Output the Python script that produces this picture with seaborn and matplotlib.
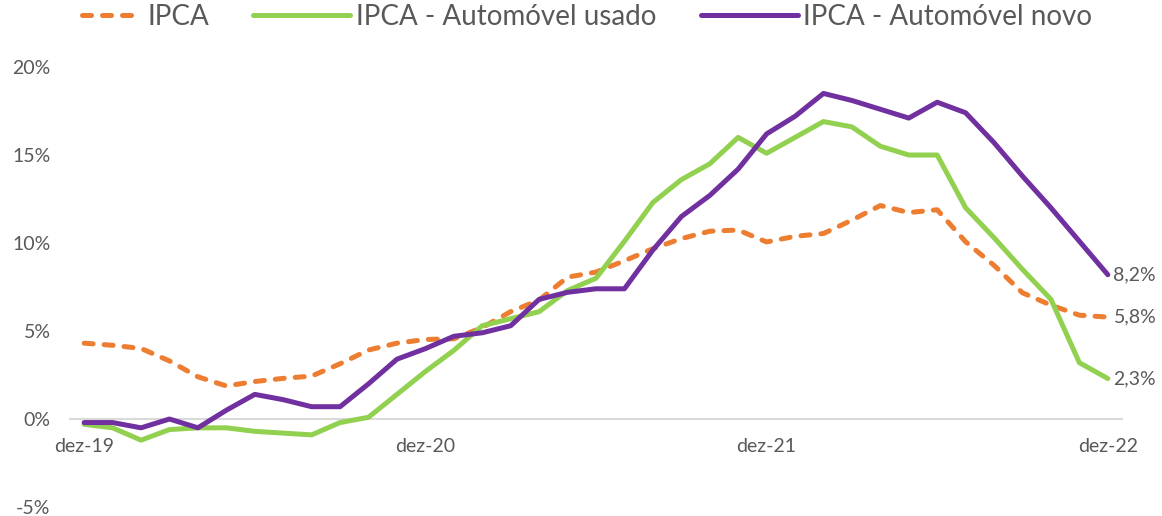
import matplotlib
matplotlib.use('Agg')
import matplotlib.pyplot as plt
import seaborn as sns
import pandas as pd
from matplotlib.lines import Line2D
from matplotlib.ticker import FixedLocator, FuncFormatter

# Monthly categories, dez-19 .. dez-22
meses = ['dez-19', 'jan-20', 'fev-20', 'mar-20', 'abr-20', 'mai-20', 'jun-20', 'jul-20',
         'ago-20', 'set-20', 'out-20', 'nov-20', 'dez-20', 'jan-21', 'fev-21', 'mar-21',
         'abr-21', 'mai-21', 'jun-21', 'jul-21', 'ago-21', 'set-21', 'out-21', 'nov-21',
         'dez-21', 'jan-22', 'fev-22', 'mar-22', 'abr-22', 'mai-22', 'jun-22', 'jul-22',
         'ago-22', 'set-22', 'out-22', 'nov-22', 'dez-22']

# 12-month variation (%)
ipca = [4.31, 4.19, 4.01, 3.30, 2.40, 1.88, 2.13, 2.31, 2.44, 3.14, 3.92, 4.31, 4.52,
        4.56, 5.20, 6.10, 6.76, 8.06, 8.35, 8.99, 9.68, 10.25, 10.67, 10.74, 10.06,
        10.38, 10.54, 11.30, 12.13, 11.73, 11.89, 10.07, 8.73, 7.17, 6.47, 5.90, 5.79]
usado = [-0.3, -0.5, -1.2, -0.6, -0.5, -0.5, -0.7, -0.8, -0.9, -0.2, 0.1, 1.4, 2.7,
         3.9, 5.3, 5.7, 6.1, 7.3, 8.0, 10.1, 12.3, 13.6, 14.5, 16.0, 15.1,
         16.0, 16.9, 16.6, 15.5, 15.0, 15.0, 12.0, 10.3, 8.5, 6.8, 3.2, 2.3]
novo = [-0.2, -0.2, -0.5, 0.0, -0.5, 0.5, 1.4, 1.1, 0.7, 0.7, 2.0, 3.4, 4.0,
        4.7, 4.9, 5.3, 6.8, 7.2, 7.4, 7.4, 9.6, 11.5, 12.7, 14.2, 16.2,
        17.2, 18.5, 18.1, 17.6, 17.1, 18.0, 17.4, 15.7, 13.8, 12.0, 10.1, 8.2]

series = ['IPCA', 'IPCA - Automóvel usado', 'IPCA - Automóvel novo']
cores = ['#ED7D31', '#92D050', '#7030A0']
rotulos_finais = ['5,8%', '2,3%', '8,2%']

df = pd.DataFrame({'x': list(range(len(meses))) * 3,
                   'valor': ipca + usado + novo,
                   'serie': [s for s in series for _ in meses]})

sns.set_theme(style='white')
plt.rcParams['font.family'] = ['Lato', 'DejaVu Sans']
cinza = '#595959'

fig = plt.figure(figsize=(11.62, 5.16), dpi=100)
ax = fig.add_axes([0.0602, 0.0174, 0.9054, 0.8527])

lw = 3.6
traco = (1.8, 2.2)
for s, c in zip(series, cores):
    d = df[df['serie'] == s]
    sns.lineplot(data=d, x='x', y='valor', color=c, lw=lw, ax=ax,
                 solid_capstyle='round', dash_capstyle='round')
ax.lines[0].set_dashes(traco)

ax.set_xlim(-0.5, 36.5)
ax.set_ylim(-5, 20)
ax.set_xlabel('')
ax.set_ylabel('')

for sp in ['top', 'right', 'left']:
    ax.spines[sp].set_visible(False)
ax.spines['bottom'].set_position(('data', 0))
ax.spines['bottom'].set_color('#d9d9d9')
ax.spines['bottom'].set_linewidth(1.5)
ax.spines['bottom'].set_zorder(0)

ax.xaxis.set_major_locator(FixedLocator([0, 12, 24, 36]))
ax.set_xticklabels([meses[i] for i in [0, 12, 24, 36]])
ax.xaxis.set_minor_locator(FixedLocator([-0.5, 11.5, 23.5, 35.5]))
ax.tick_params(axis='x', which='major', length=0, pad=14, labelsize=14, labelcolor=cinza)
ax.tick_params(axis='x', which='minor', length=6, width=1.2, color='#d9d9d9', direction='out')

ax.set_yticks([-5, 0, 5, 10, 15, 20])
ax.yaxis.set_major_formatter(FuncFormatter(lambda v, p: f'{v:.0f}%'))
ax.tick_params(axis='y', length=0, pad=14, labelsize=14, labelcolor=cinza)

ultimo = len(meses) - 1
for vals, rot in zip([ipca, usado, novo], rotulos_finais):
    ax.text(ultimo + 0.2, vals[-1], rot, fontsize=14, color=cinza,
            va='center', ha='left', clip_on=False)

# legend in two parts: the dashed handle is shorter than the solid ones
h_ipca = [Line2D([], [], color=cores[0], lw=lw, dashes=traco, dash_capstyle='round')]
h_auto = [Line2D([], [], color=cores[1], lw=lw), Line2D([], [], color=cores[2], lw=lw)]
opts = dict(loc='upper left', frameon=False, fontsize=20, handletextpad=0.2,
            borderpad=0, borderaxespad=0)
leg1 = fig.legend(h_ipca, series[:1], bbox_to_anchor=(0.0706, 0.992),
                  handlelength=2.15, **opts)
leg2 = fig.legend(h_auto, series[1:], bbox_to_anchor=(0.2177, 0.992), ncol=2,
                  handlelength=3.5, columnspacing=1.6, **opts)
for leg in (leg1, leg2):
    for t in leg.get_texts():
        t.set_color(cinza)

fig.savefig('out.png', dpi=100)
